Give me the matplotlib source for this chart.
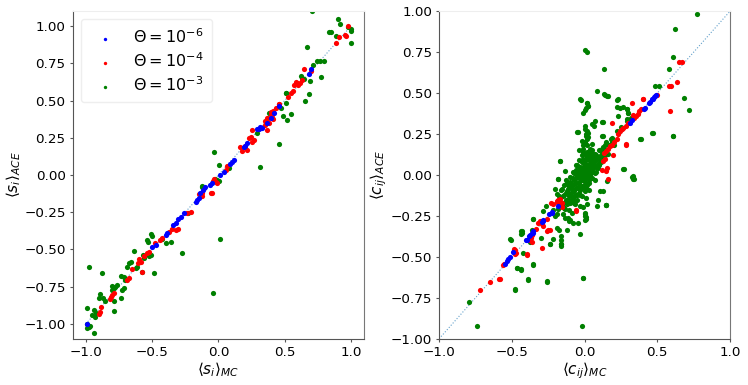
import matplotlib
matplotlib.use("Agg")
import matplotlib.pyplot as plt
import numpy as np

# ---- left panel: <s_i> (MC vs ACE) ----
s_blue_mc = [-0.992, -0.499, -0.474, -0.398, -0.385, -0.342, -0.322, -0.302, -0.285, -0.259,
             -0.171, -0.159, -0.146, -0.136, -0.116, -0.098, -0.066, -0.048, 0.015, 0.04,
             0.086, 0.103, 0.116, 0.192, 0.204, 0.217, 0.292, 0.305, 0.317, 0.33, 0.368,
             0.393, 0.418, 0.457, 0.685, 0.70]
s_blue_ace = [-1.0, -0.481, -0.47, -0.403, -0.391, -0.336, -0.32, -0.298, -0.28, -0.257,
              -0.179, -0.168, -0.157, -0.119, -0.1, -0.078, -0.067, -0.051, 0.0, 0.022,
              0.074, 0.089, 0.1, 0.186, 0.195, 0.212, 0.306, 0.306, 0.324, 0.313, 0.347,
              0.38, 0.414, 0.465, 0.678, 0.709]

s_red_mc = [-0.898, -0.891, -0.884, -0.82, -0.813, -0.80, -0.787, -0.688, -0.671, -0.65,
            -0.58, -0.604, -0.599, -0.587, -0.561, -0.537, -0.524, -0.478, -0.444, -0.429,
            -0.373, -0.353, -0.322, -0.302, -0.234, -0.209, -0.149, -0.123, -0.121, -0.055,
            -0.05, -0.04, -0.03, -0.015, -0.008, 0.06, 0.066, 0.166, 0.179, 0.197, 0.217,
            0.232, 0.247, 0.255, 0.257, 0.267, 0.353, 0.355, 0.363, 0.368, 0.373, 0.38,
            0.393, 0.398, 0.403, 0.408, 0.413, 0.438, 0.454, 0.456, 0.524, 0.549, 0.565,
            0.569, 0.582, 0.59, 0.60, 0.615, 0.632, 0.645, 0.695, 0.887, 0.91, 0.952,
            0.962, 0.98]
s_red_ace = [-0.933, -0.917, -0.884, -0.83, -0.817, -0.805, -0.794, -0.705, -0.693, -0.633,
             -0.649, -0.589, -0.566, -0.582, -0.544, -0.521, -0.515, -0.458, -0.436, -0.425,
             -0.38, -0.365, -0.369, -0.365, -0.257, -0.246, -0.128, -0.141, -0.123, -0.119,
             -0.123, -0.038, -0.029, -0.045, -0.051, 0.034, 0.06, 0.19, 0.163, 0.197, 0.168,
             0.246, 0.257, 0.223, 0.302, 0.235, 0.336, 0.364, 0.302, 0.38, 0.38, 0.351,
             0.409, 0.423, 0.391, 0.432, 0.374, 0.447, 0.477, 0.477, 0.526, 0.552, 0.566,
             0.602, 0.626, 0.615, 0.604, 0.62, 0.638, 0.709, 0.70, 0.884, 0.924, 0.942,
             0.933, 1.0]

s_green_mc = [-0.99, -0.977, -0.99, -0.965, -0.94, -0.99, -0.94, -0.952, -0.932, -0.922,
              -0.977, -0.891, -0.903, -0.873, -0.853, -0.877, -0.8, -0.787, -0.805, -0.782,
              -0.764, -0.713, -0.726, -0.731, -0.787, -0.785, -0.731, -0.713, -0.701, -0.671,
              -0.656, -0.688, -0.625, -0.612, -0.637, -0.574, -0.569, -0.561, -0.524, -0.512,
              -0.486, -0.509, -0.499, -0.537, -0.529, -0.423, -0.393, -0.36, -0.277, -0.227,
              -0.126, -0.106, -0.123, -0.038, -0.023, -0.01, 0.003, 0.015, -0.03, 0.003,
              0.078, 0.312, 0.292, 0.383, 0.388, 0.454, 0.474, 0.489, 0.506, 0.509, 0.512,
              0.519, 0.544, 0.62, 0.632, 0.645, 0.65, 0.665, 0.68, 0.69, 0.71, 0.746, 0.766,
              0.771, 0.796, 0.708, 0.837, 0.847, 0.887, 0.90, 0.917, 0.98, 0.998, 1.003,
              0.998]
s_green_ace = [-1.0, -1.018, -1.029, -1.013, -1.058, -0.895, -0.906, -0.94, -0.955, -0.924,
               -0.62, -0.799, -0.828, -0.828, -0.843, -0.656, -0.745, -0.76, -0.772, -0.754,
               -0.738, -0.76, -0.772, -0.828, -0.843, -0.911, -0.678, -0.682, -0.705, -0.589,
               -0.582, -0.62, -0.626, -0.62, -0.508, -0.649, -0.537, -0.559, -0.544, -0.537,
               -0.66, -0.396, -0.409, -0.436, -0.448, -0.432, -0.454, -0.448, -0.526, -0.253,
               -0.074, -0.089, -0.078, -0.79, -0.029, -0.034, -0.038, -0.432, 0.154, 0.067,
               0.045, 0.052, 0.284, 0.418, 0.418, 0.208, 0.447, 0.396, 0.552, 0.552, 0.481,
               0.369, 0.409, 0.664, 0.649, 0.646, 0.499, 0.861, 0.544, 0.629, 0.738, 0.765,
               0.767, 0.658, 0.763, 1.10, 0.962, 0.962, 0.933, 1.045, 1.013, 0.995, 0.978,
               0.969, 0.888]

# ---- right panel: <c_ij> (MC vs ACE) ----
c_blue_mc = [-0.546, -0.535, -0.528, -0.512, -0.489, -0.402, -0.393, -0.379, -0.375, -0.363,
             -0.356, -0.352, -0.294, -0.288, -0.283, -0.242, -0.226, -0.225, -0.18, 0.313,
             0.329, 0.411, 0.416, 0.446, 0.45, 0.466, 0.468, 0.477, 0.485, 0.491]
c_blue_ace = [-0.542, -0.526, -0.512, -0.5, -0.471, -0.398, -0.394, -0.373, -0.369, -0.357,
              -0.353, -0.343, -0.288, -0.282, -0.276, -0.241, -0.231, -0.227, -0.19, 0.318,
              0.335, 0.404, 0.41, 0.44, 0.445, 0.461, 0.465, 0.477, 0.481, 0.487]

c_red_mc = [-0.718, -0.649, -0.587, -0.58, -0.562, -0.551, -0.485, -0.484, -0.482, -0.478,
            -0.478, -0.471, -0.397, -0.393, -0.379, -0.37, -0.363, -0.363, -0.333, -0.317,
            -0.306, -0.294, -0.294, -0.287, -0.26, -0.26, -0.248, -0.237, -0.23, -0.214,
            -0.191, -0.191, -0.18, -0.175, -0.168, -0.168, -0.157, -0.157, -0.06, -0.058,
            0.118, 0.13, 0.136, 0.141, 0.145, 0.145, 0.152, 0.159, 0.164, 0.175, 0.187,
            0.187, 0.198, 0.205, 0.221, 0.233, 0.244, 0.255, 0.267, 0.283, 0.283, 0.285,
            0.297, 0.324, 0.336, 0.338, 0.352, 0.366, 0.375, 0.388, 0.40, 0.404, 0.496,
            0.58, 0.588, 0.596, 0.636, 0.652, 0.672]
c_red_ace = [-0.705, -0.654, -0.638, -0.638, -0.552, -0.546, -0.471, -0.451, -0.465, -0.455,
             -0.485, -0.479, -0.487, -0.485, -0.398, -0.384, -0.365, -0.41, -0.329, -0.292,
             -0.282, -0.302, -0.445, -0.312, -0.268, -0.345, -0.333, -0.337, -0.17, -0.18,
             -0.166, -0.16, -0.154, -0.15, -0.146, -0.174, -0.17, -0.194, -0.215, -0.217,
             0.03, 0.084, 0.135, 0.095, 0.146, 0.023, 0.044, 0.16, -0.027, 0.176, 0.186,
             0.318, 0.119, 0.2, 0.217, 0.253, 0.268, 0.278, 0.288, 0.302, 0.192, 0.184,
             0.318, 0.437, 0.369, 0.348, 0.363, 0.375, 0.39, 0.404, 0.461, 0.465, 0.49,
             0.542, 0.39, 0.546, 0.567, 0.692, 0.689]

c_green_mc = [
    # outliers
    0.77, 0.62, 0.003, 0.02, 0.136, 0.61, 0.58, 0.51, 0.485, 0.685, 0.715, 0.61, 0.47,
    0.084, 0.14, 0.157, -0.026, 0.015, 0.026, 0.225, 0.289, 0.38, 0.336, 0.33, 0.27,
    0.147, 0.106, -0.168, -0.05, -0.267, -0.356, -0.51, -0.44, -0.432, -0.356, -0.466,
    -0.439, -0.386, -0.477, -0.255, -0.008, -0.015, -0.736, -0.794, -0.164, -0.164,
    -0.237, -0.031, -0.107, 0.003,
    # upper part of the cloud
    0.136, 0.159, -0.031, 0.015, 0.026, 0.008, 0.0, -0.008, 0.228, 0.221, 0.244, 0.267,
    0.29, 0.302, 0.233, 0.29, 0.072, 0.054, 0.067, 0.118, 0.13, -0.047, 0.003, 0.015,
    0.022, 0.008, 0.026, 0.118, 0.187, 0.388, 0.466, 0.61, 0.267, 0.329, 0.338, 0.095,
    0.145, 0.015, -0.008, 0.003, 0.008, -0.106, -0.083, -0.111, -0.18, -0.168, -0.157,
    0.18, 0.22, 0.25, 0.29, 0.32, 0.20, 0.15, 0.13, 0.30, 0.129, 0.157,
    # dense core
    -0.15, -0.14, -0.13, -0.12, -0.12, -0.11, -0.11, -0.10, -0.10, -0.09, -0.09, -0.08,
    -0.08, -0.08, -0.07, -0.07, -0.07, -0.06, -0.06, -0.06, -0.05, -0.05, -0.05, -0.05,
    -0.04, -0.04, -0.04, -0.04, -0.03, -0.03, -0.03, -0.03, -0.03, -0.02, -0.02, -0.02,
    -0.02, -0.02, -0.01, -0.01, -0.01, -0.01, -0.01, 0.0, 0.0, 0.0, 0.0, 0.0, 0.0, 0.01,
    0.01, 0.01, 0.01, 0.01, 0.02, 0.02, 0.02, 0.02, 0.02, 0.03, 0.03, 0.03, 0.03, 0.04,
    0.04, 0.04, 0.04, 0.05, 0.05, 0.05, 0.06, 0.06, 0.06, 0.07, 0.07, 0.07, 0.08, 0.08,
    0.09, 0.09, 0.10, 0.10, 0.11, 0.12, 0.12, 0.13, 0.14, 0.15, 0.17, 0.19,
    -0.18, -0.17, -0.16, -0.16, -0.15, -0.14, -0.14, -0.13, -0.13, -0.12, -0.12, -0.11,
    -0.10, -0.10, -0.09, -0.09, -0.08, -0.08, -0.07, -0.07, -0.06, -0.06, -0.05, -0.05,
    -0.04, -0.04, -0.03, -0.03, -0.02, -0.02, -0.01, -0.01, 0.0, 0.0, 0.01, 0.01, 0.02,
    0.02, 0.03, 0.03, 0.04, 0.04, 0.05, 0.05, 0.06, 0.06, 0.07, 0.08, 0.08, 0.09, 0.10,
    0.11, 0.12, 0.13, 0.14, 0.16, -0.02, 0.0, 0.02, -0.04, 0.05, 0.03, -0.06, 0.07, -0.01,
    # lower-left tail
    -0.134, -0.18, -0.123, -0.10, -0.111, -0.203, -0.191, -0.173, -0.164, -0.15, -0.134,
    -0.10, -0.081, -0.065, -0.145, -0.134, -0.10, -0.077, -0.042, 0.003, 0.003, 0.01,
    -0.191, -0.203, -0.214, -0.283, -0.352, -0.191, -0.173, -0.123, -0.301, -0.214,
    -0.164, -0.164, -0.164, -0.237, -0.363, -0.432, -0.439, -0.375, -0.425, -0.507,
    -0.356, -0.466, -0.439, -0.386, -0.255, -0.013, -0.478, 0.084, 0.148,
]
c_green_ace = [
    0.985, 0.89, 0.762, 0.752, 0.65, 0.72, 0.65, 0.545, 0.546, 0.47, 0.394, 0.237, 0.258,
    0.51, 0.486, 0.481, 0.46, 0.44, 0.424, 0.456, 0.40, 0.22, -0.007, -0.023, 0.037,
    -0.186, -0.10, 0.085, 0.26, -0.19, -0.27, -0.39, -0.343, -0.353, -0.547, -0.567,
    -0.573, -0.642, -0.70, -0.648, -0.628, -0.919, -0.919, -0.776, -0.424, -0.434,
    -0.424, -0.363, -0.282, -0.272,
    0.492, 0.481, 0.461, 0.437, 0.42, 0.41, 0.396, 0.38, 0.461, 0.416, 0.41, 0.416,
    0.40, 0.38, 0.363, 0.343, 0.329, 0.309, 0.298, 0.322, 0.326, 0.261, 0.278, 0.268,
    0.258, 0.241, 0.233, 0.237, 0.227, 0.217, 0.258, 0.237, 0.034, -0.011, -0.027, -0.15,
    -0.186, -0.18, -0.194, -0.241, -0.255, -0.215, -0.235, -0.262, -0.027, 0.084, -0.088,
    0.22, 0.27, 0.29, 0.33, 0.35, 0.18, 0.20, 0.24, 0.38, -0.099, -0.037,
    -0.17, -0.12, -0.15, -0.10, -0.18, -0.07, -0.13, -0.16, -0.04, -0.11, -0.08, -0.14,
    -0.02, -0.06, -0.10, 0.01, -0.17, -0.05, -0.12, 0.03, -0.08, -0.01, 0.06, -0.15,
    -0.04, 0.02, -0.11, 0.09, -0.06, 0.0, 0.05, -0.09, -0.19, -0.03, 0.03, 0.08,
    -0.13, 0.12, -0.01, 0.05, -0.07, 0.10, 0.16, 0.01, -0.04, 0.07, 0.13, -0.10, 0.20, 0.03,
    -0.02, 0.09, 0.25, -0.14, 0.0, 0.05, 0.11, -0.06, 0.18, 0.02, 0.07, -0.03, 0.14, 0.04,
    0.09, -0.01, 0.12, 0.06, 0.02, 0.15, 0.08, 0.04, 0.11, 0.06, 0.13, 0.01, 0.09, 0.05,
    0.11, 0.07, 0.10, 0.15, 0.12, 0.14, 0.09, 0.17, 0.12, 0.15, 0.18, 0.20,
    -0.21, -0.14, -0.19, -0.09, -0.13, -0.20, -0.06, -0.11, -0.03, -0.15, -0.05, -0.17,
    -0.12, -0.01, -0.15, -0.05, -0.09, 0.02, -0.13, -0.03, -0.08, 0.06, -0.12, 0.0,
    -0.07, 0.05, -0.12, -0.02, 0.0, -0.08, 0.03, 0.14, -0.06, 0.04, 0.06, -0.08, 0.02,
    0.14, -0.05, 0.10, 0.0, 0.16, 0.09, -0.02, 0.02, 0.13, 0.09, 0.02, 0.12, 0.04, 0.06,
    0.08, 0.16, 0.11, 0.18, 0.13, 0.21, 0.30, 0.22, 0.15, 0.19, -0.09, -0.02, -0.03, 0.18,
    0.023, -0.027, -0.058, -0.068, -0.088, -0.088, -0.119, -0.129, -0.18, -0.194, -0.21,
    -0.17, -0.16, -0.18, -0.241, -0.262, -0.272, -0.292, -0.292, -0.23, -0.251, -0.268,
    -0.241, -0.251, -0.214, -0.221, -0.268, -0.322, -0.333, -0.333, -0.384, -0.389,
    -0.37, -0.398, -0.424, -0.424, -0.333, -0.343, -0.363, -0.41, -0.475, -0.394,
    -0.546, -0.567, -0.577, -0.638, -0.654, -0.628, -0.699, -0.19, -0.186,
]

labels = [r'$\Theta = 10^{-6}$', r'$\Theta = 10^{-4}$', r'$\Theta = 10^{-3}$']
colors = ['blue', 'red', 'green']
zorders = [2.4, 2.2, 2.0]

fig = plt.figure(figsize=(7.48, 3.85), dpi=100)
ax1 = fig.add_axes([0.097, 0.12, 0.39, 0.851])
ax2 = fig.add_axes([0.587, 0.12, 0.389, 0.851])

def style_axes(ax):
    for side in ['left', 'bottom']:
        ax.spines[side].set_color('#555555')
    ax.spines['right'].set_color('#777777')
    ax.spines['top'].set_color('#eeeeee')
    ax.tick_params(labelsize=9.7, length=2.5, pad=2.5, color='#555555')

# left
ax1.plot([-1, 1], [-1, 1], ':', color='tab:blue', lw=0.8, alpha=0.7)
for xs, ys, c, lab, z in zip([s_blue_mc, s_red_mc, s_green_mc],
                             [s_blue_ace, s_red_ace, s_green_ace], colors, labels, zorders):
    ax1.scatter(xs, ys, s=14, color=c, label=lab, linewidths=0, zorder=z)
ax1.set_xlim(-1.1, 1.1)
ax1.set_ylim(-1.1, 1.1)
ax1.set_xticks([-1.0, -0.5, 0.0, 0.5, 1.0])
ax1.set_yticks([-1.0, -0.75, -0.5, -0.25, 0.0, 0.25, 0.5, 0.75, 1.0])
ax1.set_xlabel(r'$\langle s_i \rangle_{MC}$', fontsize=11, labelpad=1)
ax1.set_ylabel(r'$\langle s_i \rangle_{ACE}$', fontsize=11, labelpad=1)
ax1.legend(loc='upper left', fontsize=11.5, markerscale=0.65, handletextpad=0.8,
           borderpad=0.5, labelspacing=0.35, framealpha=1, edgecolor='#eeeeee')
style_axes(ax1)

# right
ax2.plot([-1, 1], [-1, 1], ':', color='tab:blue', lw=0.8, alpha=0.7)
for xs, ys, c, z in zip([c_blue_mc, c_red_mc, c_green_mc],
                        [c_blue_ace, c_red_ace, c_green_ace], colors, zorders):
    ax2.scatter(xs, ys, s=14, color=c, linewidths=0, zorder=z)
ax2.set_xlim(-1, 1)
ax2.set_ylim(-1, 1)
ax2.set_xticks([-1.0, -0.5, 0.0, 0.5, 1.0])
ax2.set_yticks([-1.0, -0.75, -0.5, -0.25, 0.0, 0.25, 0.5, 0.75, 1.0])
ax2.set_xlabel(r'$\langle c_{ij} \rangle_{MC}$', fontsize=11, labelpad=1)
ax2.set_ylabel(r'$\langle c_{ij} \rangle_{ACE}$', fontsize=11, labelpad=1)
style_axes(ax2)

fig.savefig('out.png', dpi=100)
